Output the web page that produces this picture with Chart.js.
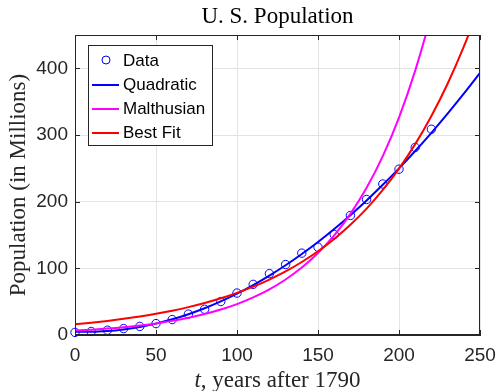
<!DOCTYPE html>
<html><head><meta charset="utf-8">
<script src="https://cdn.jsdelivr.net/npm/chart.js@4/dist/chart.umd.min.js"></script>
<style>html,body{margin:0;padding:0;background:#fff}#wrap{width:498px;height:391px}</style>
</head><body><div id="wrap"><canvas id="c" width="498" height="391"></canvas></div>
<script>
// Census data: t = years after 1790, population in millions
const years = [0,10,20,30,40,50,60,70,80,90,100,110,120,130,140,150,160,170,180,190,200,210,220];
const population = [3.9,5.3,7.2,9.6,12.9,17.1,23.2,31.4,38.6,50.2,62.9,76.0,92.0,105.7,122.8,131.7,150.7,179.3,203.3,226.5,248.7,281.4,308.7];
// Model curves
const fitT = [0,10,20,30,40,50,60,70,80,90,100,110,120,130,140,150,160,170,180,190,200,210,220,230,240,250];
const quadratic = [5.0,4.8,5.9,8.4,12.1,17.1,23.5,31.2,40.1,50.4,62.0,74.9,89.1,104.6,121.5,139.6,159.1,179.8,201.9,225.3,250.0,276.0,303.3,332.0,361.9,393.1];
const malthusian = [6.6,8.0,9.7,11.8,14.4,17.4,21.2,25.9,31.4,38.2,46.4,56.4,68.5,83.3,101.2,123.0,149.5,181.7,220.8,268.4,326.2,396.5,481.9,585.7];
const bestFit = [16.0,18.4,21.1,24.2,27.7,31.8,36.5,41.8,48.0,55.1,63.2,72.5,83.2,95.4,109.5,125.6,144.1,165.3,189.6,217.6,249.6,286.3,328.5,376.9,432.4,496.0];
const xTicks = [0,50,100,150,200,250];
const yTicks = [0,100,200,300,400];
const seriesNames = ['Data','Quadratic','Malthusian','Best Fit'];
const seriesColors = ['#0000ff','#0000ff','#ff00ff','#ff0000'];

const pts = (xs, ys) => ys.map((y, i) => ({x: xs[i], y: y}));
const AX = '#262626';
const SANS = '"Liberation Sans", Arial, sans-serif';
const SERIF = '"Liberation Serif", "Times New Roman", serif';

const deco = {
  id: 'deco',
  afterDraw(chart) {
    const ctx = chart.ctx, a = chart.chartArea;
    const xs = chart.scales.x, ys = chart.scales.y;
    ctx.save();
    ctx.strokeStyle = AX; ctx.lineWidth = 1;
    ctx.strokeRect(Math.round(a.left)+0.5, Math.round(a.top)+0.5, Math.round(a.right-a.left)-1, Math.round(a.bottom-a.top)-1);
    ctx.beginPath();
    xTicks.forEach(v => {
      const px = Math.round(xs.getPixelForValue(v)) + 0.5;
      ctx.moveTo(px, a.bottom); ctx.lineTo(px, a.bottom - 5);
      ctx.moveTo(px, a.top); ctx.lineTo(px, a.top + 5);
    });
    yTicks.forEach(v => {
      const py = Math.round(ys.getPixelForValue(v)) + 0.5;
      ctx.moveTo(a.left, py); ctx.lineTo(a.left + 5, py);
      ctx.moveTo(a.right, py); ctx.lineTo(a.right - 5, py);
    });
    ctx.stroke();
    ctx.fillStyle = '#000';
    ctx.font = '23px ' + SERIF;
    ctx.textAlign = 'center'; ctx.textBaseline = 'alphabetic';
    ctx.fillText('U. S. Population', (a.left + a.right) / 2, 23);
    ctx.fillStyle = AX;
    const p1 = 't', p2 = ', years after 1790';
    ctx.font = 'italic 23px ' + SERIF; const w1 = ctx.measureText(p1).width;
    ctx.font = '23px ' + SERIF; const w2 = ctx.measureText(p2).width;
    const x0 = (a.left + a.right) / 2 - (w1 + w2) / 2;
    ctx.textAlign = 'left';
    ctx.font = 'italic 23px ' + SERIF; ctx.fillText(p1, x0, 387);
    ctx.font = '23px ' + SERIF; ctx.fillText(p2, x0 + w1, 387);
    ctx.save();
    ctx.translate(25, (a.top + a.bottom) / 2);
    ctx.rotate(-Math.PI / 2);
    ctx.textAlign = 'center';
    ctx.fillText('Population (in Millions)', 0, 0);
    ctx.restore();
    ctx.fillStyle = '#fff';
    ctx.fillRect(88.5, 45.5, 124, 100);
    ctx.strokeStyle = AX; ctx.lineWidth = 1;
    ctx.strokeRect(88.5, 45.5, 124, 100);
    ctx.font = '17px ' + SANS; ctx.textBaseline = 'middle'; ctx.textAlign = 'left';
    seriesNames.forEach((n, i) => {
      const y = 61 + i * 24;
      if (i === 0) {
        ctx.strokeStyle = seriesColors[0]; ctx.lineWidth = 1;
        ctx.beginPath(); ctx.arc(106, y - 1, 4, 0, Math.PI * 2); ctx.stroke();
      } else {
        ctx.strokeStyle = seriesColors[i]; ctx.lineWidth = 2;
        ctx.beginPath(); ctx.moveTo(92, y); ctx.lineTo(119, y); ctx.stroke();
      }
      ctx.fillStyle = '#000';
      ctx.fillText(n, 123, y);
    });
    ctx.restore();
  }
};

new Chart(document.getElementById('c'), {
  type: 'scatter',
  data: {
    datasets: [
      {label: seriesNames[0], data: pts(years, population), showLine: false, pointRadius: 4.2, pointBorderWidth: 1,
       pointBorderColor: seriesColors[0], pointBackgroundColor: 'rgba(0,0,0,0)', pointStyle: 'circle', clip: false, order: 4},
      {label: seriesNames[1], data: pts(fitT, quadratic), showLine: true, borderColor: seriesColors[1], borderWidth: 2,
       pointRadius: 0, cubicInterpolationMode: 'monotone', order: 3},
      {label: seriesNames[2], data: pts(fitT, malthusian), showLine: true, borderColor: seriesColors[2], borderWidth: 2,
       pointRadius: 0, cubicInterpolationMode: 'monotone', order: 2},
      {label: seriesNames[3], data: pts(fitT, bestFit), showLine: true, borderColor: seriesColors[3], borderWidth: 2,
       pointRadius: 0, cubicInterpolationMode: 'monotone', order: 1}
    ]
  },
  options: {
    responsive: false, animation: false, devicePixelRatio: 1,
    layout: {padding: {top: 35, right: 18, left: 0, bottom: 0}},
    plugins: {legend: {display: false}, title: {display: false}, tooltip: {enabled: false}},
    scales: {
      x: {
        type: 'linear', min: 0, max: 250,
        afterBuildTicks: s => { s.ticks = xTicks.map(v => ({value: v})); },
        afterFit: s => { s.height = 56; s.paddingLeft = 0; s.paddingRight = 0; },
        ticks: {font: {family: SANS, size: 19}, color: AX, padding: 9, maxRotation: 0},
        grid: {color: '#e3e3e3', drawTicks: false},
        border: {display: true, color: AX}
      },
      y: {
        type: 'linear', min: 0, max: 450,
        afterBuildTicks: s => { s.ticks = yTicks.map(v => ({value: v})); },
        afterFit: s => { s.width = 75; s.paddingTop = 0; s.paddingBottom = 0; },
        ticks: {font: {family: SANS, size: 19}, color: AX, padding: 7},
        grid: {color: '#e3e3e3', drawTicks: false},
        border: {display: true, color: AX}
      }
    }
  },
  plugins: [deco]
});
</script></body></html>
